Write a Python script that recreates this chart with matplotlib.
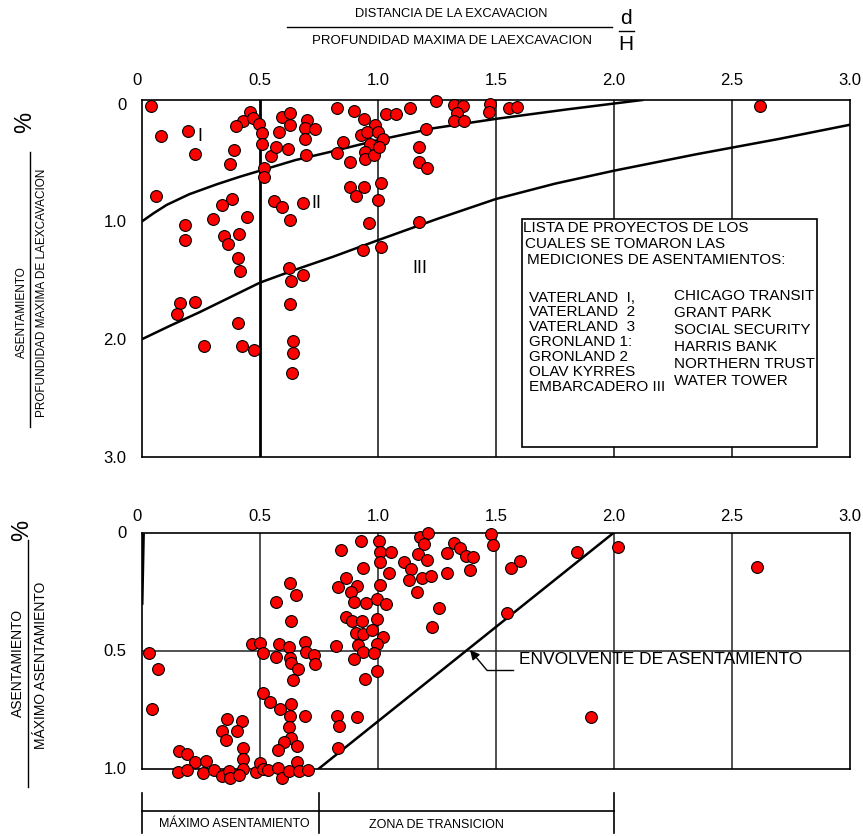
import matplotlib
matplotlib.use("Agg")
import matplotlib.pyplot as plt
from matplotlib.patches import Rectangle

plt.rcParams['font.family'] = ['Liberation Sans', 'DejaVu Sans']

# --- datos grafico superior: asentamiento / profundidad (%) vs d/H ---
sup_x = [0.037, 0.079, 0.194, 0.223, 0.059, 0.458, 0.429, 0.398, 0.469, 0.497,
         0.508, 0.510, 0.389, 0.374, 0.518, 0.518, 0.547, 0.569, 0.617, 0.579,
         0.592, 0.627, 0.627, 0.698, 0.691, 0.732, 0.692, 0.696, 0.825, 0.900,
         0.939, 0.987, 0.928, 0.955, 1.000, 1.022, 0.850, 0.826, 0.881, 0.966,
         0.945, 0.945, 0.984, 1.006, 1.033, 1.076, 1.136, 1.246, 1.322, 1.361,
         1.336, 1.322, 1.364, 1.476, 1.472, 1.556, 1.588, 1.203, 1.172, 1.175,
         1.206, 0.881, 0.941, 0.906, 1.011, 1.000, 0.963, 1.175, 0.938, 1.011,
         0.559, 0.594, 0.683, 0.627, 0.380, 0.340, 0.444, 0.300, 0.182, 0.182,
         0.347, 0.412, 0.363, 0.406, 0.415, 0.624, 0.631, 0.683, 0.161, 0.225,
         0.150, 0.406, 0.263, 0.422, 0.476, 0.627, 0.641, 0.641, 0.637, 2.619]
sup_y = [0.023, 0.277, 0.235, 0.426, 0.788, 0.070, 0.144, 0.192, 0.127, 0.172,
         0.248, 0.347, 0.396, 0.511, 0.545, 0.625, 0.447, 0.370, 0.390, 0.243,
         0.113, 0.079, 0.184, 0.142, 0.206, 0.214, 0.297, 0.438, 0.036, 0.065,
         0.130, 0.178, 0.265, 0.243, 0.243, 0.305, 0.328, 0.424, 0.497, 0.347,
         0.409, 0.469, 0.441, 0.367, 0.093, 0.085, 0.042, -0.019, 0.014, 0.023,
         0.079, 0.147, 0.144, 0.000, 0.074, 0.036, 0.028, 0.214, 0.370, 0.494,
         0.545, 0.706, 0.706, 0.786, 0.672, 0.819, 1.011, 1.003, 1.243, 1.218,
         0.828, 0.879, 0.847, 0.989, 0.808, 0.862, 0.964, 0.977, 1.034, 1.161,
         1.125, 1.104, 1.195, 1.308, 1.421, 1.398, 1.506, 1.458, 1.689, 1.684,
         1.786, 1.864, 2.057, 2.062, 2.093, 1.703, 2.019, 2.116, 2.288, 0.025]

# limites entre zonas I / II / III
curva1_x = [0, 0.05, 0.105, 0.2, 0.316, 0.415, 0.5, 0.65, 0.811, 1.0, 1.234,
            1.5, 1.8, 2.12]
curva1_y = [1.0, 0.93, 0.86, 0.77, 0.686, 0.621, 0.57, 0.48, 0.404, 0.31, 0.21,
            0.13, 0.05, -0.03]
curva2_x = [0, 0.12, 0.245, 0.5, 0.65, 0.81, 1.0, 1.25, 1.5, 1.75, 2.0, 2.35,
            2.7, 3.0]
curva2_y = [2.0, 1.885, 1.77, 1.52, 1.41, 1.30, 1.16, 0.98, 0.81, 0.68, 0.57,
            0.43, 0.30, 0.18]

# --- datos grafico inferior: asentamiento / asentamiento maximo vs d/H ---
inf_x = [0.031, 0.067, 0.044, 0.842, 0.863, 0.829, 0.627, 0.651, 0.568, 0.630,
         0.863, 0.889, 0.467, 0.500, 0.514, 0.581, 0.624, 0.691, 0.694, 0.729,
         0.733, 0.568, 0.627, 0.630, 0.660, 0.641, 0.822, 0.514, 0.544, 0.583,
         0.631, 0.627, 0.691, 0.624, 0.630, 0.602, 0.576, 0.656, 0.656, 0.828,
         0.836, 0.829, 0.361, 0.425, 0.340, 0.401, 0.355, 0.429, 0.429, 0.429,
         0.157, 0.192, 0.223, 0.272, 0.154, 0.192, 0.257, 0.306, 0.338, 0.369,
         0.372, 0.411, 0.482, 0.500, 0.514, 0.533, 0.575, 0.594, 0.623, 0.667,
         0.705, 0.929, 1.006, 1.008, 1.008, 1.055, 0.935, 1.048, 0.912, 0.886,
         1.008, 0.900, 0.948, 0.997, 1.034, 0.931, 0.997, 0.906, 0.935, 0.975,
         1.020, 0.914, 0.997, 0.938, 0.983, 0.900, 1.178, 1.213, 1.196, 1.171,
         1.206, 1.110, 1.139, 1.133, 1.185, 1.225, 1.164, 1.292, 1.294, 1.322,
         1.347, 1.372, 1.401, 1.390, 1.258, 1.230, 1.480, 1.486, 1.562, 1.602,
         1.548, 0.997, 0.945, 0.910, 1.842, 2.018, 2.605, 1.901]
inf_y = [0.509, 0.580, 0.749, 0.074, 0.194, 0.230, 0.215, 0.266, 0.294, 0.374,
         0.359, 0.374, 0.474, 0.469, 0.509, 0.472, 0.484, 0.465, 0.505, 0.520,
         0.558, 0.526, 0.533, 0.554, 0.577, 0.625, 0.479, 0.681, 0.717, 0.748,
         0.728, 0.778, 0.778, 0.823, 0.872, 0.886, 0.922, 0.905, 0.974, 0.776,
         0.820, 0.912, 0.790, 0.800, 0.840, 0.840, 0.879, 0.913, 0.958, 1.001,
         0.925, 0.939, 0.971, 0.968, 1.015, 1.006, 1.018, 1.006, 1.031, 1.009,
         1.039, 1.028, 1.014, 0.978, 1.002, 1.006, 0.999, 1.040, 1.009, 1.009,
         1.006, 0.036, 0.036, 0.081, 0.124, 0.081, 0.152, 0.170, 0.227, 0.252,
         0.222, 0.293, 0.297, 0.282, 0.303, 0.374, 0.368, 0.427, 0.430, 0.413,
         0.444, 0.477, 0.472, 0.506, 0.509, 0.537, 0.020, 0.003, 0.050, 0.091,
         0.117, 0.124, 0.155, 0.201, 0.192, 0.183, 0.251, 0.170, 0.086, 0.043,
         0.067, 0.100, 0.103, 0.159, 0.321, 0.402, 0.006, 0.053, 0.149, 0.119,
         0.340, 0.587, 0.622, 0.783, 0.081, 0.060, 0.145, 0.781]

envolvente_x = [0.75, 2.0]
envolvente_y = [1.0, 0.0]

ticks_x = [0, 0.5, 1.0, 1.5, 2.0, 2.5, 3.0]
etiq_x = ["0", "0.5", "1.0", "1.5", "2.0", "2.5", "3.0"]

proyectos_izq = ["VATERLAND  I,", "VATERLAND  2", "VATERLAND  3", "GRONLAND 1:",
                 "GRONLAND 2", "OLAV KYRRES", "EMBARCADERO III"]
proyectos_der = ["CHICAGO TRANSIT", "GRANT PARK", "SOCIAL SECURITY", "HARRIS BANK",
                 "NORTHERN TRUST", "WATER TOWER"]

W, H = 863, 836
fig = plt.figure(figsize=(W / 100, H / 100), dpi=100)


def fx(px):
    return px / W


def fy(py):
    return 1 - py / H


ax1 = fig.add_axes([fx(142), fy(457), 708 / W, 357 / H])
ax2 = fig.add_axes([fx(142), fy(768.5), 708 / W, 236 / H])

for ax in (ax1, ax2):
    ax.set_xlim(0, 3.0)
    ax.xaxis.tick_top()
    ax.set_xticks(ticks_x)
    ax.set_xticklabels(etiq_x)
    ax.tick_params(length=0, labelsize=12)
    for s in ax.spines.values():
        s.set_linewidth(1.2)
    ax.get_xticklabels()[0].set_horizontalalignment('right')

# ---------- grafico superior ----------
ax1.set_ylim(3.0, -0.03)
ax1.set_yticks([0, 1.0, 2.0, 3.0])
ax1.set_yticklabels(["0", "1.0", "2.0", "3.0"])
ax1.tick_params(axis='x', pad=9)
ax1.tick_params(axis='y', pad=11)
ax1.axvline(0.5, color='black', lw=2, zorder=1)
for v in [1.0, 1.5, 2.0, 2.5]:
    ax1.axvline(v, color='#222222', lw=1.2, zorder=1)
ax1.plot(curva1_x, curva1_y, color='black', lw=1.8, zorder=2, solid_joinstyle='round')
ax1.plot(curva2_x, curva2_y, color='black', lw=1.8, zorder=2, solid_joinstyle='round')
ax1.plot(sup_x, sup_y, 'o', ms=8.5, mfc='#ff0000', mec='black', mew=0.8,
         clip_on=False, zorder=5)
ax1.text(0.246, 0.28, "I", fontsize=13, ha='center', va='center')
ax1.text(0.737, 0.85, "II", fontsize=13, ha='center', va='center')
ax1.text(1.178, 1.40, "III", fontsize=13, ha='center', va='center')

ax1.add_patch(Rectangle((1.609, 0.977), 1.252, 1.941, facecolor='white',
                        edgecolor='black', lw=1.2, zorder=3))
ax1.text(1.613, 1.053, "LISTA DE PROYECTOS DE LOS", fontsize=11, va='center', zorder=4)
ax1.text(1.623, 1.189, "CUALES SE TOMARON LAS", fontsize=11, va='center', zorder=4)
ax1.text(1.633, 1.328, "MEDICIONES DE ASENTAMIENTOS:", fontsize=11, va='center', zorder=4)
for i, nombre in enumerate(proyectos_izq):
    ax1.text(1.64, 1.647 + i * 0.126, nombre, fontsize=11, va='center', zorder=4)
for i, nombre in enumerate(proyectos_der):
    ax1.text(2.255, 1.63 + i * 0.145, nombre, fontsize=11, va='center', zorder=4)

# ---------- grafico inferior ----------
ax2.set_ylim(1.0, 0.0)
ax2.set_yticks([0, 0.5, 1.0])
ax2.set_yticklabels(["0", "0.5", "1.0"])
ax2.tick_params(axis='x', pad=6)
ax2.tick_params(axis='y', pad=11)
for v in [0.5, 1.0, 1.5, 2.0, 2.5]:
    ax2.axvline(v, color='#222222', lw=1.1, zorder=1)
ax2.axhline(0.5, color='#222222', lw=1.1, zorder=1)
ax2.plot([0.006, 0.0], [0.0, 0.3], color='black', lw=2.2, zorder=2)
ax2.plot(envolvente_x, envolvente_y, color='black', lw=1.8, zorder=2)
ax2.plot(inf_x, inf_y, 'o', ms=8.5, mfc='#ff0000', mec='black', mew=0.8,
         clip_on=False, zorder=5)

ax2.annotate("", xy=(1.39, 0.498), xytext=(1.461, 0.583),
             arrowprops=dict(arrowstyle='-|>', color='black', lw=1.0,
                             mutation_scale=14, shrinkA=0, shrinkB=0))
ax2.plot([1.461, 1.573], [0.583, 0.583], color='black', lw=1.0)
ax2.text(1.599, 0.54, "ENVOLVENTE DE ASENTAMIENTO", fontsize=12.5, va='center')

# cotas de zonas bajo el grafico inferior
for v in [0.0, 0.75, 2.0]:
    ax2.plot([v, v], [1.104, 1.273], color='black', lw=1.2, clip_on=False)
ax2.plot([0.0, 2.0], [1.18, 1.18], color='black', lw=1.2, clip_on=False)
ax2.text(0.39, 1.237, "MÁXIMO ASENTAMIENTO", fontsize=9, ha='center', va='center')
ax2.text(1.246, 1.24, "ZONA DE TRANSICION", fontsize=9, ha='center', va='center')

# ---------- titulo (d/H) ----------
fig.text(fx(451), fy(14), "DISTANCIA DE LA EXCAVACION", fontsize=9.3, ha='center', va='center')
fig.text(fx(452), fy(41), "PROFUNDIDAD MAXIMA DE LAEXCAVACION", fontsize=9.5,
         ha='center', va='center')
fig.add_artist(plt.Line2D([fx(287), fx(612)], [fy(27), fy(27)], color='black', lw=1))
fig.text(fx(626), fy(19), "d", fontsize=15, ha='center', va='center')
fig.text(fx(626), fy(44), "H", fontsize=15, ha='center', va='center')
fig.add_artist(plt.Line2D([fx(619), fx(634)], [fy(31), fy(31)], color='black', lw=1))

# ---------- etiquetas eje y ----------
fig.text(fx(25), fy(122), "%", fontsize=17, rotation=90, ha='center', va='center')
fig.add_artist(plt.Line2D([fx(29.5), fx(29.5)], [fy(152), fy(427)], color='black', lw=1))
fig.text(fx(22), fy(312), "ASENTAMIENTO", fontsize=8.5, rotation=90, ha='center', va='center')
fig.text(fx(42), fy(293), "PROFUNDIDAD MAXIMA DE LAEXCAVACION", fontsize=8.5,
         rotation=90, ha='center', va='center')

fig.text(fx(22), fy(530), "%", fontsize=17, rotation=90, ha='center', va='center')
fig.add_artist(plt.Line2D([fx(27.5), fx(27.5)], [fy(540), fy(787)], color='black', lw=1))
fig.text(fx(18), fy(663), "ASENTAMIENTO", fontsize=10, rotation=90, ha='center', va='center')
fig.text(fx(41), fy(665), "MÁXIMO ASENTAMIENTO", fontsize=10, rotation=90,
         ha='center', va='center')

fig.savefig("out.png", dpi=100)
